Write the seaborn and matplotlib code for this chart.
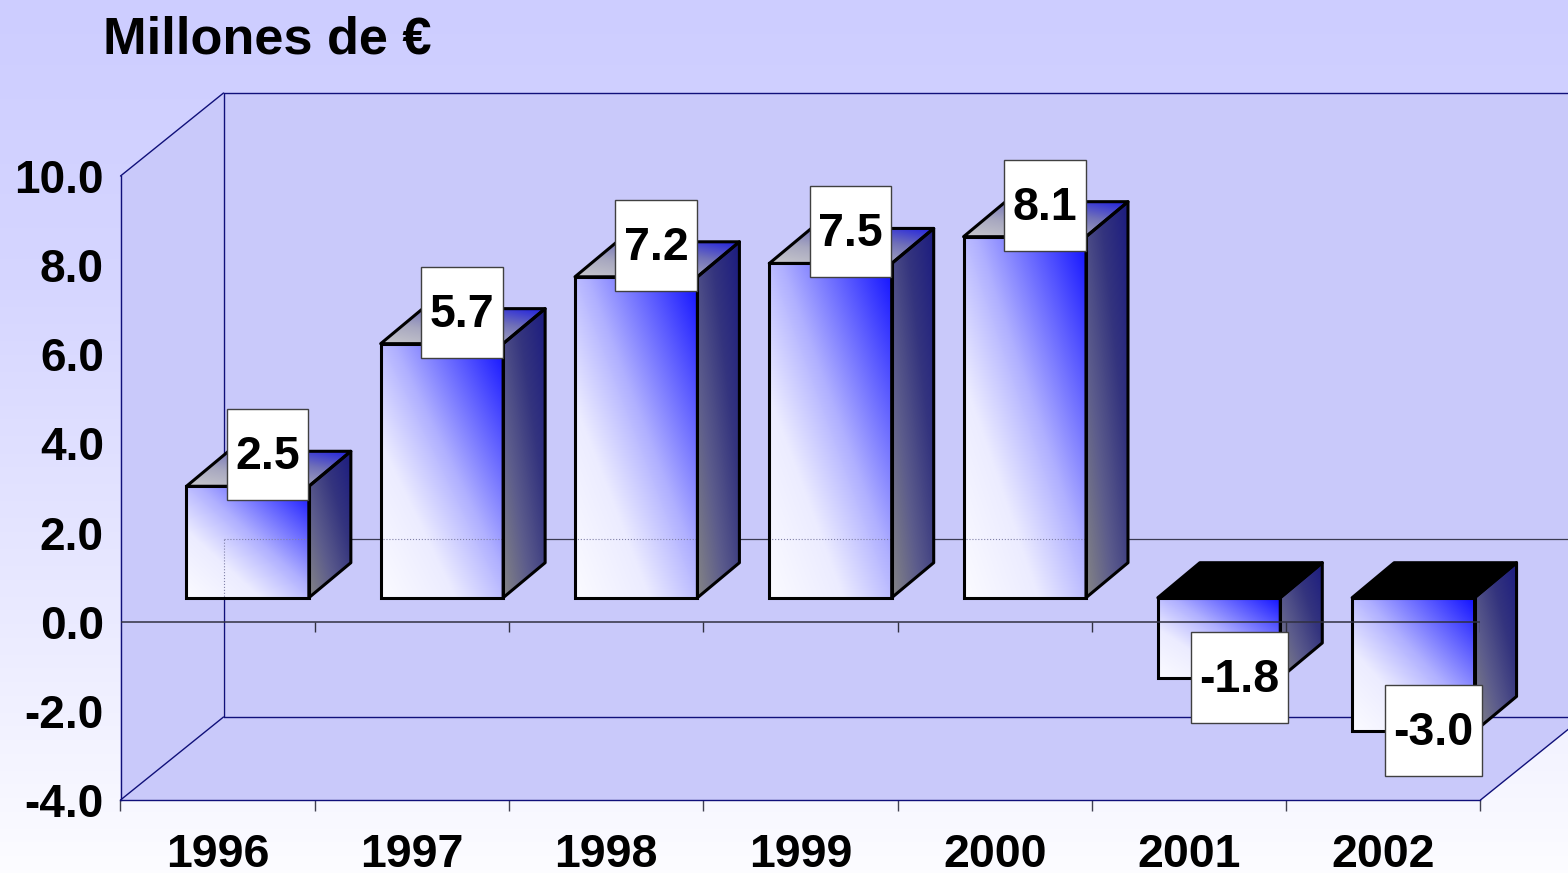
import numpy as np
import pandas as pd
import seaborn as sns
import matplotlib.pyplot as plt
from matplotlib.colors import LinearSegmentedColormap
from matplotlib.patches import Polygon, Rectangle
from matplotlib.transforms import Affine2D, IdentityTransform

years = ['1996', '1997', '1998', '1999', '2000', '2001', '2002']
values = [2.5, 5.7, 7.2, 7.5, 8.1, -1.8, -3.0]
y_ticks = [-4, -2, 0, 2, 4, 6, 8, 10]
title = 'Millones de €'

# everything below is in pixels (dpi 100 so 1 px = 1 display unit)
W, H = 1568, 873
WALL_DX, WALL_DY = 103, 83     # depth of the chart box
BAR_DX, BAR_DY = 30, 24        # how far back the bars stand
SIDE_DX, SIDE_DY = 42, 35      # depth of the bars
NAVY = '#10107a'
WALL = '#c9c9fa'

sns.set_theme(style='white')
plt.rcParams['font.family'] = ['Liberation Sans', 'DejaVu Sans']
plt.rcParams['font.weight'] = 'bold'

fig = plt.figure(figsize=(W / 100, H / 100), dpi=100)

# page background
bg = fig.add_axes([0, 0, 1, 1], zorder=-1)
bg.axis('off')
bg_cmap = LinearSegmentedColormap.from_list('bg', ['#fcfcff', '#e8e8ff', '#d6d6ff', '#cdcdff'])
bg.imshow(np.linspace(1, 0, 256).reshape(-1, 1), cmap=bg_cmap, aspect='auto', vmin=0, vmax=1)

ax = fig.add_axes([120.5 / W, (H - 800) / H, 1360 / W, 624 / H])
ax.patch.set_visible(False)
df = pd.DataFrame({'year': years, 'value': values})
sns.barplot(data=df, x='year', y='value', width=0.63, fill=False,
            edgecolor='black', linewidth=2.2, ax=ax, zorder=5)
ax.set_xlim(-0.5, len(years) - 0.5)
ax.set_ylim(-4, 10)
ax.autoscale(False)

front_cmap = LinearSegmentedColormap.from_list(
    'front', [(0, '#fbfbff'), (0.3, '#ececff'), (0.55, '#b0b0ff'), (0.8, '#5858ff'), (1, '#1010ff')])
side_cmap = LinearSegmentedColormap.from_list('side', ['#858585', '#5c5c8c', '#34347e', '#1c1c80'])
top_cmap = LinearSegmentedColormap.from_list('top', ['#c8c8cc', '#a8a8c0', '#7070b8', '#2020e0'])


def px(x, y):
    return ax.transData.transform((x, y))


def face(verts, cmap, z):
    # gradient from the lower left to the upper right of the polygon, clipped to it
    verts = np.array(verts)
    x0, y0 = verts.min(axis=0)
    x1, y1 = verts.max(axis=0)
    u, v = np.meshgrid(np.linspace(0, 1, 128), np.linspace(1, 0, 128))
    im = ax.imshow((u + v) / 2, cmap=cmap, vmin=0, vmax=1, aspect='auto',
                   extent=(x0, x1, y0, y1), transform=IdentityTransform(),
                   zorder=z, interpolation='bilinear')
    im.set_clip_path(Polygon(verts, transform=IdentityTransform()))
    im.set_clip_box(fig.bbox)
    return im


def outline(verts, z=5, **kw):
    ax.add_patch(Polygon(verts, closed=True, transform=IdentityTransform(), clip_on=False,
                         zorder=z, joinstyle='round', **kw))


# chart box: left wall, floor and back wall
p_tl = px(-0.5, 10)
p_bl = px(-0.5, -4)
p_br = px(len(years) - 0.5, -4)
d = np.array([WALL_DX, WALL_DY])
back_right = p_br + d
for verts in ([p_bl, p_tl, p_tl + d, p_bl + d],
              [p_bl, p_br, back_right, p_bl + d],
              [p_tl + d, (back_right[0], p_tl[1] + d[1]), back_right, p_bl + d]):
    outline(verts, z=0, facecolor=WALL, edgecolor='none')
line_kw = dict(color=NAVY, lw=1.0, transform=IdentityTransform(), clip_on=False, zorder=1)
for a, b in ((p_tl, p_tl + d), (p_bl, p_bl + d), (p_br, back_right), (p_tl + d, p_bl + d),
             (p_tl + d, (back_right[0], p_tl[1] + d[1])), (p_bl + d, back_right)):
    ax.plot([a[0], b[0]], [a[1], b[1]], **line_kw)

# zero line on the back wall
z_back = px(-0.5, 0) + d
ax.plot([z_back[0], back_right[0]], [z_back[1], z_back[1]], color='#3a3a50', lw=0.9,
        transform=IdentityTransform(), clip_on=False, zorder=1)

# bars: seaborn draws the front, the depth faces hang off its patches
shift = Affine2D().translate(BAR_DX, BAR_DY)
for bar, val in zip(ax.patches, values):
    x0 = bar.get_x()
    x1 = x0 + bar.get_width()
    y0 = bar.get_y()
    y1 = y0 + bar.get_height()
    ya, yb = min(y0, y1), max(y0, y1)
    off = np.array([BAR_DX, BAR_DY])
    side = np.array([SIDE_DX, SIDE_DY])
    bl, br = px(x0, ya) + off, px(x1, ya) + off
    tl, tr = px(x0, yb) + off, px(x1, yb) + off
    front_face = [bl, br, tr, tl]
    right_face = [br, br + side, tr + side, tr]
    top_face = [tl, tr, tr + side, tl + side]
    face(front_face, front_cmap, 3)
    face(right_face, side_cmap, 3)
    if val >= 0:
        face(top_face, top_cmap, 3)
    else:
        outline(top_face, z=3, facecolor='black', edgecolor='none')
    outline(right_face, fill=False, edgecolor='black', linewidth=2.2)
    outline(top_face, fill=False, edgecolor='black', linewidth=2.2)
    bar.set_transform(ax.transData + shift)
    bar.set_clip_on(False)
    # the wall lines show faintly through the front of the bar
    for xs, ys in (([z_back[0], back_right[0]], [z_back[1], z_back[1]]),
                   ([z_back[0], z_back[0]], [(p_bl + d)[1], z_back[1]])):
        ln, = ax.plot(xs, ys, color='#8080a8', lw=0.8, ls=':',
                      transform=IdentityTransform(), zorder=4)
        ln.set_clip_path(Polygon(front_face, transform=IdentityTransform()))
        ln.set_clip_box(fig.bbox)

# axes, ticks
sns.despine(ax=ax, top=True, right=True)
for s in ('left', 'bottom'):
    ax.spines[s].set_color(NAVY)
    ax.spines[s].set_linewidth(1.0)
ax.set_xlabel('')
ax.set_ylabel('')
ax.set_yticks(y_ticks)
ax.set_yticklabels([f'{t:.1f}' for t in y_ticks], fontsize=33, fontweight='bold', color='black')
ax.set_xticks(range(len(years)))
ax.set_xticklabels(years, fontsize=33.5, fontweight='bold', color='black')
ax.tick_params(axis='y', length=0, pad=12)
ax.tick_params(axis='x', which='major', length=0, pad=24)
edges = np.arange(len(years) + 1) - 0.5
ax.set_xticks(edges, minor=True)
ax.tick_params(axis='x', which='minor', length=8, width=1, color='#404050', bottom=True)

# front zero line with its ticks
ax.axhline(0, color='#303040', lw=1.1, zorder=7)
ax.vlines(edges, -10 / 44.57, 0, color='#303040', lw=1, zorder=7)

# value boxes
fig.canvas.draw()
renderer = fig.canvas.get_renderer()
for i, val in enumerate(values):
    up = 53 if val >= 0 else 22
    t = ax.annotate(f'{val:.1f}', xy=(i, val), xytext=(50, up), textcoords='offset pixels',
                    ha='center', va='center', fontsize=33.5, fontweight='bold', color='black',
                    zorder=10, annotation_clip=False)
    e = t.get_window_extent(renderer)
    cx = (e.x0 + e.x1) / 2
    cy = (e.y0 + e.y1) / 2 + 3
    w = e.width + 17
    ax.add_patch(Rectangle((cx - w / 2, cy - 46), w, 91, transform=IdentityTransform(),
                           facecolor='white', edgecolor='#404040', linewidth=1,
                           clip_on=False, zorder=9))

fig.text(103 / W, 1 - 40 / H, title, fontsize=37.7, fontweight='bold', color='black',
         ha='left', va='center')

fig.savefig('out.png', dpi=100)
